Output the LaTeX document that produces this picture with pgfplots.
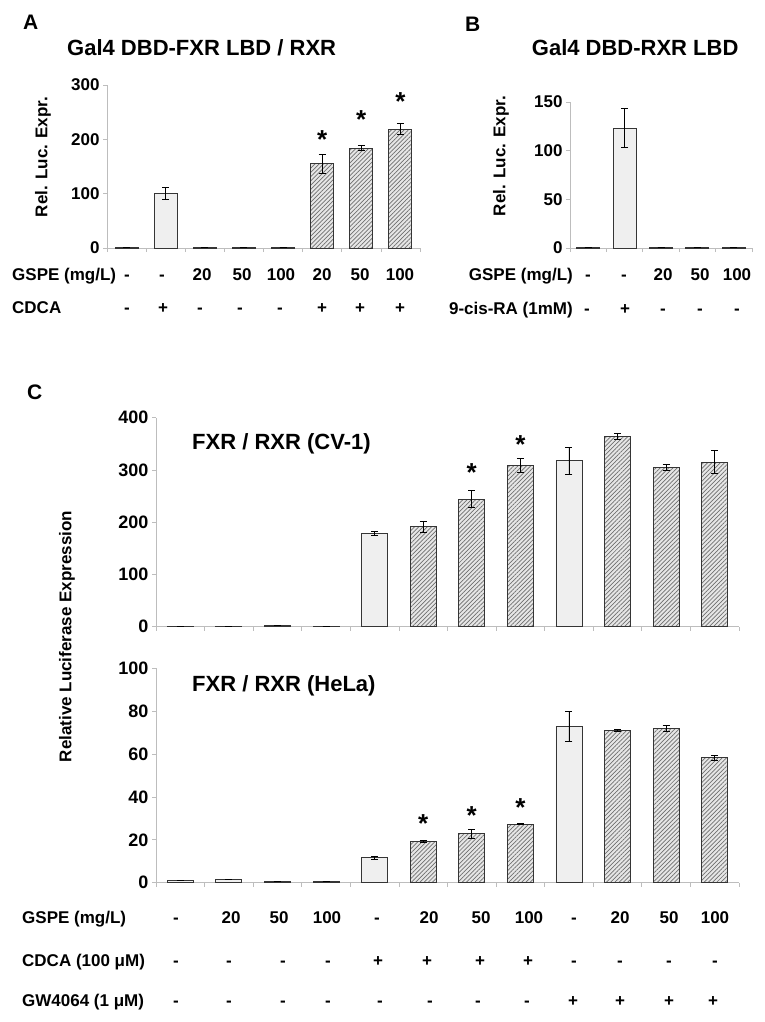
\documentclass[border=0pt]{standalone}
\usepackage{fontspec}
\setmainfont{Liberation Sans}
\usepackage{pgfplots}
\usepackage{pgfplotstable}
\pgfplotsset{compat=1.18}
\usetikzlibrary{patterns.meta}
\definecolor{axgray}{HTML}{BDBDBD}
\definecolor{plainfill}{HTML}{EFEFEF}
\definecolor{hatchfill}{HTML}{E6E6E6}
\definecolor{hatchline}{HTML}{6E6E6E}
\definecolor{barline}{HTML}{353535}

\pgfplotstableread{
x y e
0 0.8 0
1 100 11
2 0.8 0
3 0.8 0
4 0.8 0
}\Aplain
\pgfplotstableread{
x y e
5 155 18
6 184 5
7 219 10
}\Ahatch
\pgfplotstableread{
x y e
0 0.8 0
1 123 20
2 1.0 0
3 0.6 0
4 0.6 0
}\Bplain
\pgfplotstableread{
x y e
0 1 0
1 1 0
2 2 0
3 1 0
4 178.7 4
8 317.7 26
}\Cplain
\pgfplotstableread{
x y e
5 191 10
6 244 16
7 309 13.5
9 363.6 6
10 305 6
11 315 22
}\Chatch
\pgfplotstableread{
x y e
0 1.0 0
1 1.6 0
2 0.6 0
3 0.6 0
4 11.7 0.8
8 73 7
}\Dplain
\pgfplotstableread{
x y e
5 19.3 0.6
6 22.9 2
7 27.3 0.3
9 71.0 0.5
10 72.0 1.5
11 58.2 1.2
}\Dhatch

\pgfplotsset{
 panel/.style={
   scale only axis, axis lines=left,
   axis line style={draw=axgray, line width=0.8pt, -},
   ymin=0, clip=false,
   tick align=outside, major tick length=4pt,
   tick style={draw=axgray, line width=0.7pt},
   xticklabels={},
   /pgf/number format/assume math mode=true,
   yticklabel style={font=\fontsize{17}{19}\selectfont\bfseries},
 },
 errs/.style={error bars/.cd, y dir=both, y explicit,
   error bar style={black, line width=0.8pt},
   error mark options={black, rotate=90, mark size=3.5pt, line width=0.8pt}},
 plainbar/.style={ybar, bar shift=0pt, draw=barline, line width=0.9pt, fill=plainfill, errs},
 hatchbar/.style={ybar, bar shift=0pt, draw=barline, line width=0.9pt, fill=hatchfill,
   postaction={pattern={Lines[angle=45,distance=3pt,line width=0.7pt]}, pattern color=hatchline}, errs},
}
\tikzset{
 star/.style={font=\fontsize{26}{26}\selectfont\bfseries, inner sep=0pt, anchor=center, yshift=-5pt},
 val/.style={font=\fontsize{17}{20}\selectfont\bfseries, anchor=base, inner sep=0pt},
 rowlab/.style={font=\fontsize{17}{20}\selectfont\bfseries, inner sep=0pt},
 ttl/.style={font=\fontsize{22}{26}\selectfont\bfseries, inner sep=0pt, anchor=base west},
 letter/.style={font=\fontsize{21}{24}\selectfont\bfseries, inner sep=0pt, anchor=base west},
 ylab/.style={font=\fontsize{17}{20}\selectfont\bfseries, inner sep=0pt, rotate=90},
}

\begin{document}
\begin{tikzpicture}[x=1pt,y=1pt]
\path[use as bounding box] (0,0) rectangle (764,-1022);

% ---------------- Panel A
\begin{axis}[panel, at={(107pt,-248pt)}, anchor=south west,
  width=313pt, height=163pt, xmin=-0.5, xmax=7.5, ymax=300,
  ytick={0,100,200,300}, xtick={-0.5,0.5,...,7.5}, bar width=23pt]
\addplot[plainbar] table[x=x,y=y,y error=e] {\Aplain};
\addplot[hatchbar] table[x=x,y=y,y error=e] {\Ahatch};
\node[star] at (axis cs:5,208) {*};
\node[star] at (axis cs:6,245) {*};
\node[star] at (axis cs:7,279) {*};
\end{axis}

% ---------------- Panel B
\begin{axis}[panel, at={(570pt,-248pt)}, anchor=south west,
  width=182pt, height=146pt, xmin=-0.5, xmax=4.5, ymax=150,
  ytick={0,50,100,150}, xtick={-0.5,0.5,...,4.5}, bar width=23pt]
\addplot[plainbar] table[x=x,y=y,y error=e] {\Bplain};
\end{axis}

% ---------------- Panel C top
\begin{axis}[panel, at={(156pt,-626.7pt)}, anchor=south west,
  width=583pt, height=209pt, xmin=-0.5, xmax=11.5, ymax=400,
  yticklabel style={font=\fontsize{18}{20}\selectfont\bfseries},
  ytick={0,100,...,400}, xtick={-0.5,0.5,...,11.5}, bar width=26pt]
\addplot[plainbar] table[x=x,y=y,y error=e] {\Cplain};
\addplot[hatchbar] table[x=x,y=y,y error=e] {\Chatch};
\node[star] at (axis cs:6,303.7) {*};
\node[star] at (axis cs:7,359) {*};
\end{axis}

% ---------------- Panel C bottom
\begin{axis}[panel, at={(156pt,-882.7pt)}, anchor=south west,
  width=583pt, height=214.4pt, xmin=-0.5, xmax=11.5, ymax=100,
  yticklabel style={font=\fontsize{18}{20}\selectfont\bfseries},
  ytick={0,20,...,100}, xtick={-0.5,0.5,...,11.5}, bar width=26pt]
\addplot[plainbar] table[x=x,y=y,y error=e] {\Dplain};
\addplot[hatchbar] table[x=x,y=y,y error=e] {\Dhatch};
\node[star] at (axis cs:5,29.7) {*};
\node[star] at (axis cs:6,33.5) {*};
\node[star] at (axis cs:7,37.3) {*};
\end{axis}

% ---------------- Letters and titles
\node[letter] at (23,-30) {A};
\node[letter] at (465,-31.5) {B};
\node[letter] at (27,-399.5) {C};
\node[ttl] at (67,-55.6) {Gal4 DBD-FXR LBD / RXR};
\node[ttl] at (531.7,-56) {Gal4 DBD-RXR LBD};
\node[ttl] at (192,-449.6) {FXR / RXR (CV-1)};
\node[ttl] at (192,-691) {FXR / RXR (HeLa)};

% ---------------- Y labels
\node[ylab] at (43,-157) {Rel. Luc. Expr.};
\node[ylab] at (501,-156) {Rel. Luc. Expr.};
\node[ylab] at (67,-636.5) {Relative Luciferase Expression};

% ---------------- Row labels A
\node[rowlab, anchor=base west] at (12,-280) {GSPE (mg/L)};
\node[rowlab, anchor=base west] at (12,-313.5) {CDCA};
\foreach \xx/\t in {127/-,162/-,202/20,242/50,281/100,322/20,360/50,400/100}
  \node[val] at (\xx,-280) {\t};
\foreach \xx/\t in {127/-,163/+,200/-,240/-,280/-,322/+,360/+,400/+}
  \node[val] at (\xx,-313.5) {\t};

% ---------------- Row labels B
\node[rowlab, anchor=base east] at (573,-280) {GSPE (mg/L)};
\node[rowlab, anchor=base east] at (573,-314) {9-cis-RA (1mM)};
\foreach \xx/\t in {588/-,624/-,663/20,700/50,737/100}
  \node[val] at (\xx,-280) {\t};
\foreach \xx/\t in {587/-,625/+,663/-,700/-,737/-}
  \node[val] at (\xx,-314) {\t};

% ---------------- Row labels C
\node[rowlab, anchor=base west] at (22,-923) {GSPE (mg/L)};
\node[rowlab, anchor=base west] at (22,-966) {CDCA (100 μM)};
\node[rowlab, anchor=base west] at (22,-1006) {GW4064 (1 μM)};
\foreach \xx/\t in {176/-,231/20,279/50,327/100,377/-,429/20,481/50,529/100,574/-,620/20,669/50,715/100}
  \node[val] at (\xx,-923) {\t};
\foreach \xx/\t in {176/-,229/-,283/-,328/-,378/+,427/+,480/+,528/+,574/-,620/-,669/-,715/-}
  \node[val] at (\xx,-966) {\t};
\foreach \xx/\t in {176/-,229/-,283/-,328/-,380/-,430/-,478/-,527/-,573/+,620/+,669/+,713/+}
  \node[val] at (\xx,-1006) {\t};
\end{tikzpicture}
\end{document}
